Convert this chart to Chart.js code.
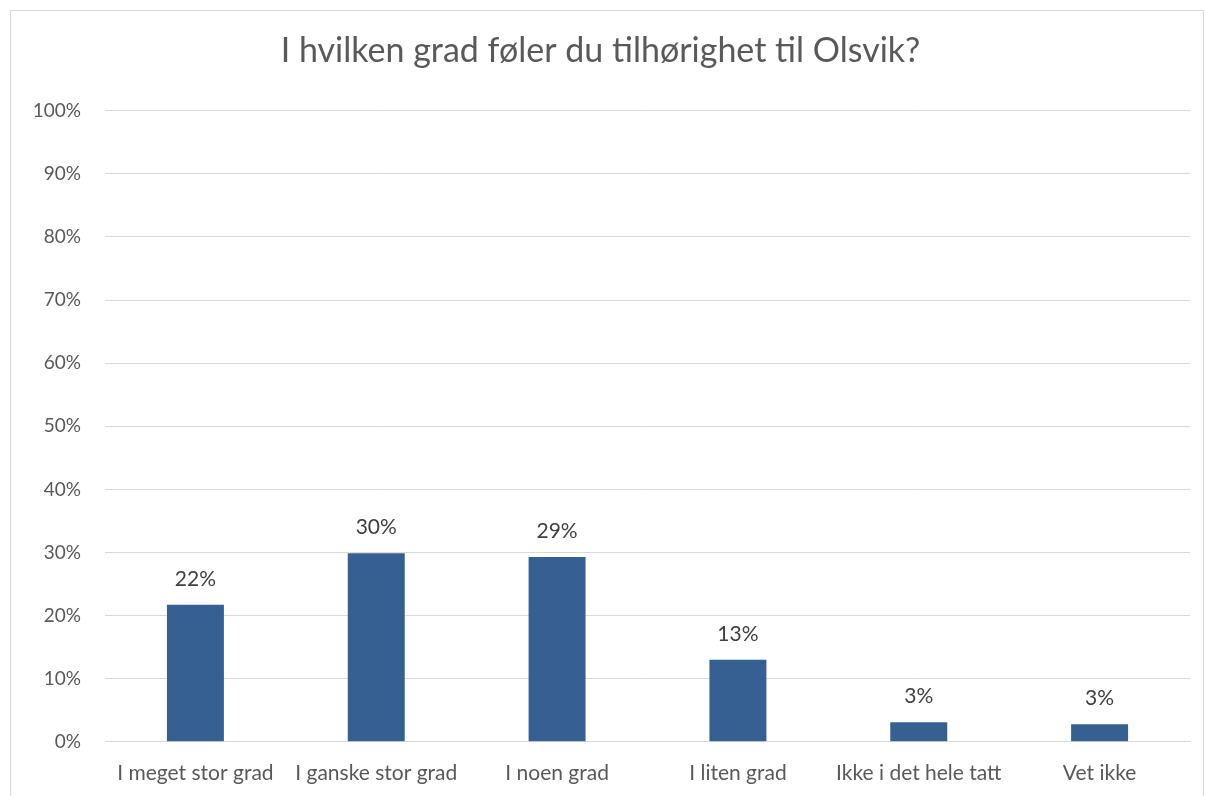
<!DOCTYPE html>
<html lang="no">
  <head>
    <meta charset="UTF-8"/>
    <title>Tilhørighet til Olsvik</title>
    <script src="https://cdn.jsdelivr.net/npm/chart.js@4.4.0/dist/chart.umd.min.js"></script>
    <style>
      html, body { margin:0; padding:0; background:#fff; overflow:hidden; }
      #frame { position:absolute; left:10px; top:10px; width:1192px; height:800px; border:1px solid #d9d9d9; background:#fff; }
    </style>
  </head>
  <body>
    <div id="frame"><canvas id="Chart" width="1192" height="800"></canvas></div>
    <script>
      // data
      var categories = ['I meget stor grad','I ganske stor grad','I noen grad','I liten grad','Ikke i det hele tatt','Vet ikke'];
      var values = [21.7, 29.9, 29.3, 13.0, 3.1, 2.8];
      var valueLabels = ['22%','30%','29%','13%','3%','3%'];
      var titleText = 'I hvilken grad føler du tilhørighet til Olsvik?';

      var fontFam = 'Lato, "Open Sans", sans-serif';

      // draws the percentage above each bar
      var barLabels = {
        id: 'barLabels',
        afterDatasetsDraw: function(chart){
          var ctx = chart.ctx;
          var meta = chart.getDatasetMeta(0);
          ctx.save();
          ctx.font = '21px ' + fontFam;
          ctx.fillStyle = '#404040';
          ctx.textAlign = 'center';
          ctx.textBaseline = 'middle';
          meta.data.forEach(function(bar, i){
            ctx.fillText(valueLabels[i], bar.x, bar.y - 26);
          });
          ctx.restore();
        }
      };

      var ctx = document.getElementById('Chart').getContext('2d');
      var chart = new Chart(ctx, {
        type: 'bar',
        data: {
          labels: categories,
          datasets: [{
            data: values,
            backgroundColor: '#366092',
            borderWidth: 0,
            barPercentage: 0.315,
            categoryPercentage: 1
          }]
        },
        options: {
          responsive: false,
          animation: false,
          layout: { padding: { left: 0, right: 13, top: 0, bottom: 6 } },
          plugins: {
            legend: { display: false },
            tooltip: { enabled: false },
            title: {
              display: true,
              text: titleText,
              color: '#595959',
              font: { family: fontFam, size: 34, weight: 'normal' },
              padding: { top: 20, bottom: 39 }
            }
          },
          scales: {
            x: {
              grid: { display: false, drawTicks: false },
              border: { display: true, color: '#d9d9d9', width: 1 },
              ticks: { color: '#595959', font: { family: fontFam, size: 21 }, padding: 19, maxRotation: 0, autoSkip: false }
            },
            y: {
              min: 0, max: 100,
              afterFit: function(scale){ scale.width = 94; },
              grid: { color: '#d9d9d9', drawTicks: false },
              border: { display: false },
              ticks: {
                stepSize: 10, padding: 24, color: '#595959',
                font: { family: fontFam, size: 19 },
                callback: function(v){ return v + '%'; }
              }
            }
          }
        },
        plugins: [barLabels]
      });
    </script>
  </body>
</html>
